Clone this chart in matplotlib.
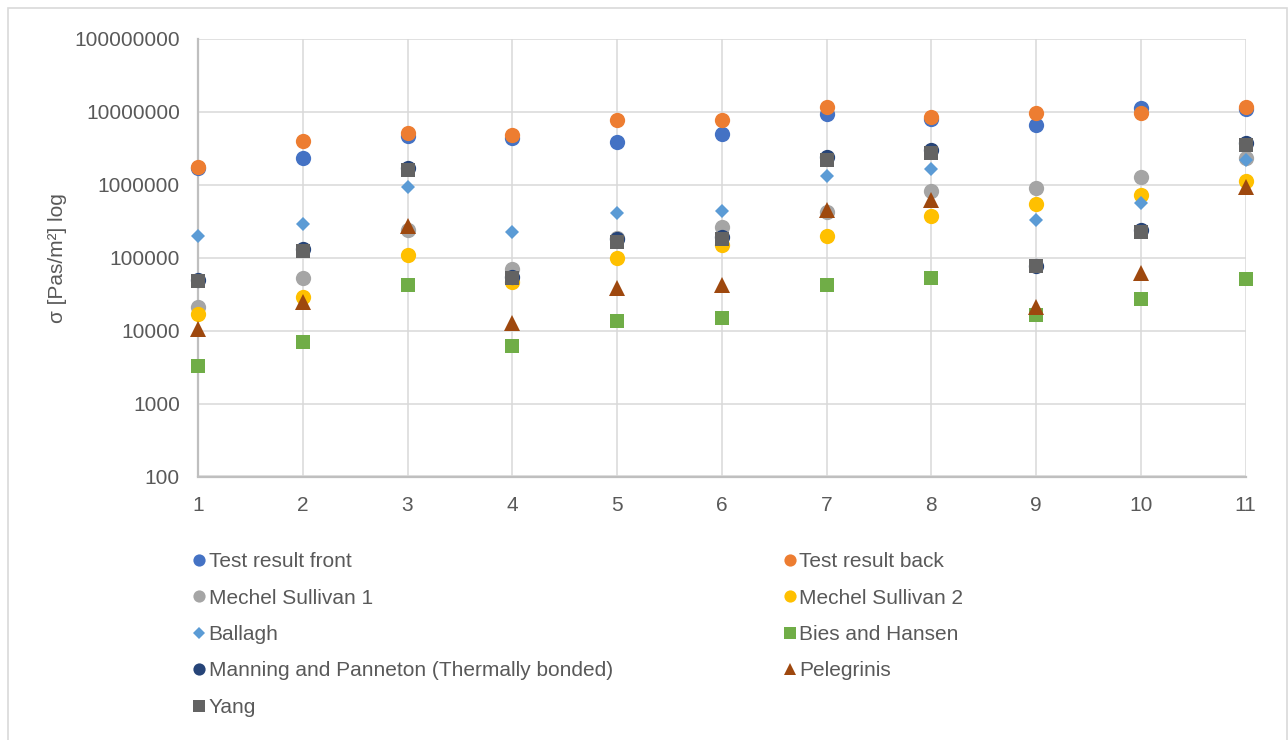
import matplotlib
matplotlib.use("Agg")
import matplotlib.pyplot as plt
from matplotlib.lines import Line2D
from matplotlib.patches import Rectangle
from matplotlib.ticker import FixedLocator, FuncFormatter, NullLocator

plt.rcParams['font.family'] = ['Liberation Sans', 'DejaVu Sans']

samples = [1, 2, 3, 4, 5, 6, 7, 8, 9, 10, 11]

front = [1.7e6, 2.37e6, 4.7e6, 4.45e6, 3.88e6, 5.05e6, 9.3e6, 7.9e6, 6.6e6, 1.12e7, 1.1e7]
back = [1.73e6, 4.0e6, 5.2e6, 4.84e6, 7.7e6, 7.7e6, 1.15e7, 8.6e6, 9.6e6, 9.6e6, 1.17e7]
sullivan1 = [21000, 52600, 2.4e5, 70000, 1.87e5, 2.66e5, 4.27e5, 8.3e5, 9.0e5, 1.3e6, 2.37e6]
sullivan2 = [17000, 28600, 1.09e5, 46000, 1.0e5, 1.5e5, 1.96e5, 3.76e5, 5.4e5, 7.3e5, 1.13e6]
ballagh = [2.0e5, 2.9e5, 9.4e5, 2.22e5, 4.05e5, 4.4e5, 1.33e6, 1.67e6, 3.3e5, 5.55e5, 2.18e6]
bies_hansen = [3250, 6900, 42000, 6100, 13400, 14800, 42000, 52000, 16400, 27200, 51500]
manning = [50000, 1.3e5, 1.7e6, 55000, 1.8e5, 1.95e5, 2.4e6, 3.0e6, 78000, 2.4e5, 3.8e6]
pelegrinis = [10500, 24400, 2.7e5, 12600, 38400, 42000, 4.5e5, 6.2e5, 20900, 61000, 9.4e5]
yang = [48000, 1.22e5, 1.59e6, 52600, 1.67e5, 1.8e5, 2.18e6, 2.77e6, 76000, 2.27e5, 3.53e6]

y_ticks = [1e2, 1e3, 1e4, 1e5, 1e6, 1e7, 1e8]

# (label, values, colour, marker, size)
series = [
    ("Test result front", front, "#4472C4", "o", 11),
    ("Test result back", back, "#ED7D31", "o", 11),
    ("Mechel Sullivan 1", sullivan1, "#A5A5A5", "o", 11),
    ("Mechel Sullivan 2", sullivan2, "#FFC000", "o", 11),
    ("Ballagh", ballagh, "#5B9BD5", "D", 7.2),
    ("Bies and Hansen", bies_hansen, "#70AD47", "s", 10),
    ("Manning and Panneton (Thermally bonded)", manning, "#264478", "o", 11),
    ("Pelegrinis", pelegrinis, "#9E480E", "^", 11),
    ("Yang", yang, "#636363", "s", 10),
]

text_col = "#595959"

fig = plt.figure(figsize=(12.88, 7.4), dpi=100)
fig.patches.append(Rectangle((8 / 1288, -0.1), 1279 / 1288, 1.1 - 8 / 740,
                             transform=fig.transFigure, fill=False,
                             edgecolor="#d9d9d9", linewidth=1.2))

ax = fig.add_axes([198 / 1288, 1 - 476.5 / 740, (1245.5 - 198) / 1288, (476.5 - 39) / 740])

handles = {}
for i, (label, vals, col, mk, ms) in enumerate(series):
    h, = ax.plot(samples, vals, linestyle="none", marker=mk, markersize=ms,
                 color=col, markeredgewidth=0, label=label, zorder=3 + i,
                 clip_on=False)
    handles[label] = h

ax.set_yscale("log")
ax.set_xlim(1, 11)
ax.set_ylim(1e2, 1e8)
ax.xaxis.set_major_locator(FixedLocator(samples))
ax.yaxis.set_major_locator(FixedLocator(y_ticks))
ax.yaxis.set_minor_locator(NullLocator())
ax.yaxis.set_major_formatter(FuncFormatter(lambda v, p: f"{int(round(v))}"))

ax.grid(True, color="#d9d9d9", linewidth=1.1, zorder=0)
ax.set_axisbelow(True)
for side in ("top", "right"):
    ax.spines[side].set_visible(False)
for side in ("left", "bottom"):
    ax.spines[side].set_color("#bfbfbf")
    ax.spines[side].set_linewidth(1.6)

ax.tick_params(axis="both", length=0, labelsize=15, labelcolor=text_col)
ax.tick_params(axis="y", pad=13)
ax.tick_params(axis="x", pad=14)
ax.set_ylabel("σ [Pas/m²] log", fontsize=15, color=text_col, labelpad=5)

# legend entries go down the first column then the second
order = ["Test result front", "Mechel Sullivan 1", "Ballagh",
         "Manning and Panneton (Thermally bonded)", "Yang",
         "Test result back", "Mechel Sullivan 2", "Bies and Hansen", "Pelegrinis"]
leg_handles = [Line2D([], [], linestyle="none", marker=handles[k].get_marker(),
                      markersize=handles[k].get_markersize() * 0.8,
                      color=handles[k].get_color(), markeredgewidth=0)
               for k in order]
leg = fig.legend(leg_handles, order, loc="upper left", ncol=2,
                 bbox_to_anchor=(193 / 1288, 1 - 552 / 740),
                 frameon=False, fontsize=15, handlelength=0.6,
                 handletextpad=0.15, labelspacing=0.84, columnspacing=8.2,
                 borderaxespad=0, borderpad=0)
for t in leg.get_texts():
    t.set_color(text_col)

fig.savefig("out.png", dpi=100)
